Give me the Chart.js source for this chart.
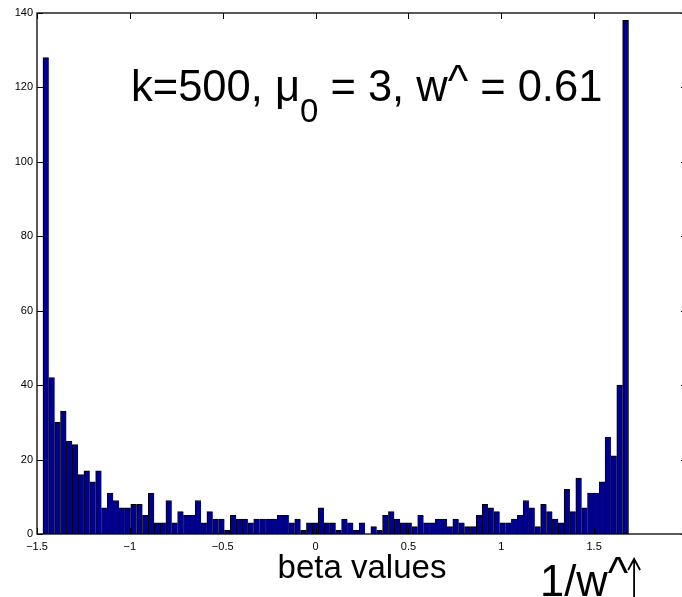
<!DOCTYPE html>
<html>
<head>
<meta charset="utf-8">
<script src="https://cdn.jsdelivr.net/npm/chart.js@4.4.1/dist/chart.umd.min.js"></script>
<style>
  html, body { margin: 0; padding: 0; background: #fff; overflow: hidden; }
  canvas { display: block; }
</style>
</head>
<body>
<canvas id="histChart" width="690" height="597"></canvas>
<script>
// Histogram of beta values: 100 equal-width bins
const binStart = -1.468;
const binWidth = 0.03153;
const counts = [
  128, 42, 30, 33, 25, 24, 16, 17, 14, 17,
  7, 11, 9, 7, 7, 8, 8, 5, 11, 3,
  3, 9, 3, 6, 5, 5, 9, 3, 6, 4,
  4, 1, 5, 4, 4, 3, 4, 4, 4, 4,
  5, 5, 3, 4, 1, 3, 3, 7, 3, 3,
  1, 4, 3, 1, 3, 0, 2, 1, 5, 6,
  4, 3, 3, 2, 5, 3, 3, 4, 4, 2,
  4, 3, 2, 2, 5, 8, 7, 6, 3, 3,
  4, 5, 9, 7, 2, 8, 6, 4, 3, 12,
  6, 15, 7, 11, 11, 14, 26, 21, 40, 138
];
const xTicks = [-1.5, -1, -0.5, 0, 0.5, 1, 1.5, 2];
const yTicks = [0, 20, 40, 60, 80, 100, 120, 140];

const FONT = "'Liberation Sans', Arial, Helvetica, sans-serif";
const BAR_FILL = '#00008f';

const bins = counts.map((c, i) => ({ x: binStart + (i + 0.5) * binWidth, y: c }));

function fmtTick(v) {
  return v < 0 ? '\u2212' + String(-v) : String(v);
}

// box around the axes with inward tick marks
const axesFrame = {
  id: 'axesFrame',
  afterDraw(chart) {
    const { ctx, chartArea: a, scales } = chart;
    const tl = 6;
    ctx.save();
    ctx.strokeStyle = '#000';
    ctx.lineWidth = 1.3;
    ctx.strokeRect(a.left, a.top, a.right - a.left, a.bottom - a.top);
    ctx.lineWidth = 1;
    ctx.beginPath();
    xTicks.forEach(v => {
      const px = Math.round(scales.x.getPixelForValue(v)) + 0.5;
      ctx.moveTo(px, a.bottom); ctx.lineTo(px, a.bottom - tl);
      ctx.moveTo(px, a.top); ctx.lineTo(px, a.top + tl);
    });
    yTicks.forEach(v => {
      const py = Math.round(scales.y.getPixelForValue(v)) + 0.5;
      ctx.moveTo(a.left, py); ctx.lineTo(a.left + tl, py);
      ctx.moveTo(a.right, py); ctx.lineTo(a.right - tl, py);
    });
    ctx.stroke();
    ctx.restore();
  }
};

// parameter text inside the plot and the 1/w^ marker under the axis
const annotations = {
  id: 'annotations',
  afterDraw(chart) {
    const { ctx } = chart;
    const big = '43.5px ' + FONT;
    const small = '33px ' + FONT;
    ctx.save();
    ctx.fillStyle = '#000';
    ctx.textBaseline = 'alphabetic';
    ctx.textAlign = 'left';

    let x = 131, y = 101;
    const put = (txt, font, dy) => {
      ctx.font = font;
      ctx.fillText(txt, x, y + (dy || 0));
      x += ctx.measureText(txt).width;
    };
    put('k=500, \u03bc', big);
    put('0', small, 21);
    put(' = 3, w', big);
    put('^', big, -5);
    put(' = 0.61', big);

    x = 540; y = 596;
    put('1/w', big);
    put('^', big, -8);
    // up arrow
    const ax = x + 6;
    ctx.strokeStyle = '#000';
    ctx.lineWidth = 1.8;
    ctx.beginPath();
    ctx.moveTo(ax, 600); ctx.lineTo(ax, 560);
    ctx.moveTo(ax - 6, 570); ctx.lineTo(ax, 559); ctx.lineTo(ax + 6, 570);
    ctx.stroke();
    ctx.restore();
  }
};

new Chart(document.getElementById('histChart').getContext('2d'), {
  type: 'bar',
  data: {
    datasets: [{
      data: bins,
      backgroundColor: BAR_FILL,
      borderColor: '#000',
      borderWidth: ctx => ctx.dataIndex === counts.length - 1
        ? { top: 1, left: 1, right: 1, bottom: 0 }
        : { top: 1, left: 1, right: 0, bottom: 0 },
      borderSkipped: false,
      barPercentage: 1,
      categoryPercentage: 1
    }]
  },
  options: {
    responsive: false,
    animation: false,
    layout: { padding: { top: 13, right: 3, left: 0, bottom: 0 } },
    plugins: {
      legend: { display: false },
      tooltip: { enabled: false }
    },
    scales: {
      x: {
        type: 'linear',
        min: -1.5,
        max: 2,
        offset: false,
        grid: { display: false, drawTicks: false, offset: false },
        border: { display: false },
        afterBuildTicks: s => { s.ticks = xTicks.map(v => ({ value: v })); },
        afterFit: s => {
          s.height = 63;
          s.paddingLeft = 0;
          s.paddingRight = 0;
        },
        ticks: {
          color: '#000',
          font: { family: FONT, size: 11 },
          padding: 6,
          maxRotation: 0,
          autoSkip: false,
          callback: v => fmtTick(v)
        },
        title: {
          display: true,
          text: 'beta values',
          color: '#000',
          font: { family: FONT, size: 33 },
          padding: { top: 0, bottom: 8 }
        }
      },
      y: {
        min: 0,
        max: 140,
        grid: { display: false, drawTicks: false },
        border: { display: false },
        afterBuildTicks: s => { s.ticks = yTicks.map(v => ({ value: v })); },
        afterFit: s => { s.width = 37; },
        ticks: {
          color: '#000',
          font: { family: FONT, size: 11 },
          padding: 4,
          callback: v => fmtTick(v)
        }
      }
    }
  },
  plugins: [axesFrame, annotations]
});
</script>
</body>
</html>
